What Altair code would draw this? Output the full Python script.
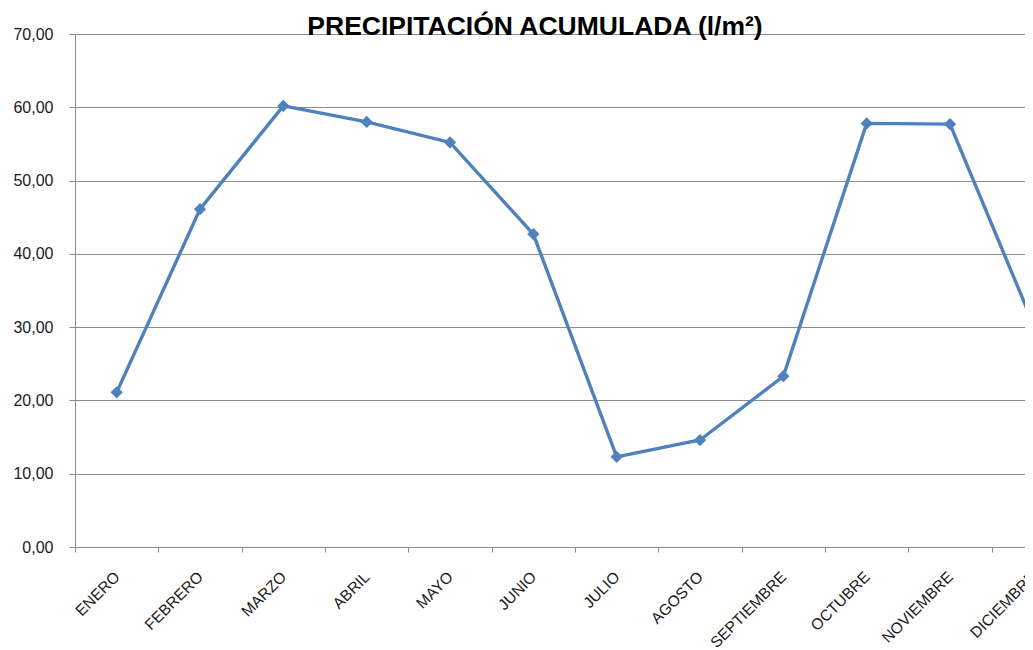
import altair as alt
import pandas as pd

months = ["ENERO", "FEBRERO", "MARZO", "ABRIL", "MAYO", "JUNIO", "JULIO",
          "AGOSTO", "SEPTIEMBRE", "OCTUBRE", "NOVIEMBRE", "DICIEMBRE"]
precip = [21.1, 46.1, 60.2, 58.0, 55.2, 42.7, 12.3, 14.6, 23.3, 57.8, 57.7, 30.4]
y_ticks = [0, 10, 20, 30, 40, 50, 60, 70]

df = pd.DataFrame({"mes": months, "valor": precip})

FONT = "Liberation Sans"
BLUE = "#4F81BD"
GRID = "#8C8C8C"

x_enc = alt.X(
    "mes:N", sort=months,
    scale=alt.Scale(range=[0, 1000], paddingInner=0, paddingOuter=0),
    axis=alt.Axis(
        title=None, labelAngle=-45, labelAlign="right", labelBaseline="middle",
        labelPadding=22, labelFontSize=15.5, labelFont=FONT, labelColor="#1a1a1a",
        tickBand="extent", tickSize=5, tickColor=GRID,
        domainColor=GRID, grid=False, labelOverlap=False, labelBound=False,
    ),
)
y_enc = alt.Y(
    "valor:Q",
    scale=alt.Scale(domain=[0, 70], nice=False),
    axis=alt.Axis(
        title=None, values=y_ticks, labelFontSize=16, labelFont=FONT,
        labelColor="#1a1a1a", labelPadding=16, tickSize=6, tickColor=GRID,
        domainColor=GRID, gridColor=GRID, gridWidth=1,
        labelExpr="replace(format(datum.value, '.2f'), '.', ',')",
    ),
)

base = alt.Chart(df)
line = base.mark_line(color=BLUE, strokeWidth=3.4).encode(x=x_enc, y=y_enc)
pts = base.mark_point(shape="diamond", filled=True, size=150, color=BLUE, opacity=1).encode(x=x_enc, y=y_enc)

chart = (
    alt.layer(line, pts)
    .properties(
        width=950, height=513,
        title=alt.TitleParams(
            "PRECIPITACIÓN ACUMULADA (l/m²)", font=FONT, fontSize=26.5,
            fontWeight="bold", color="#000000", anchor="middle", dx=-15,
            offset=-35, baseline="alphabetic",
        ),
        autosize=alt.AutoSizeParams(type="none"),
        padding={"left": 67, "top": 26, "right": 0, "bottom": 100},
    )
    .configure_view(stroke=None)
    .configure(background="white")
)

chart.save("out.html", embed_options={"renderer": "svg", "actions": False})
